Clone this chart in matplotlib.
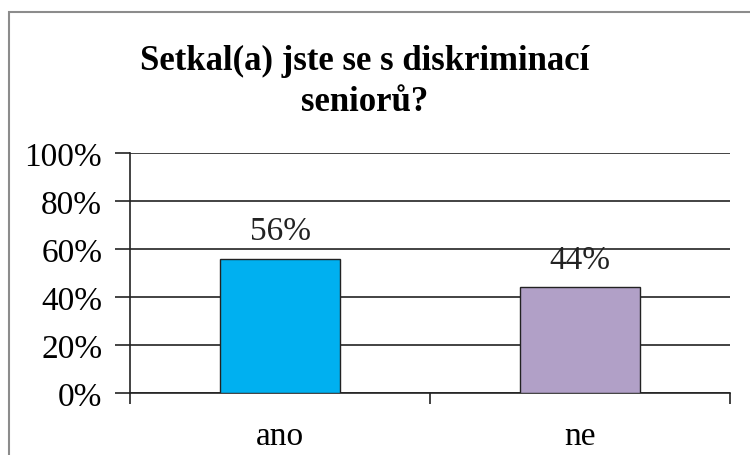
import matplotlib.pyplot as plt
from matplotlib.patches import Rectangle
from matplotlib.ticker import FixedLocator

# Survey answers (share of respondents)
categories = ["ano", "ne"]
shares = [56, 44]
bar_colors = ["#00B0F0", "#B1A0C7"]
y_ticks = [0, 20, 40, 60, 80, 100]
title = "Setkal(a) jste se s diskriminací\nseniorů?"

plt.rcParams["font.family"] = ["Liberation Serif", "DejaVu Serif"]

fig = plt.figure(figsize=(7.5, 4.56), dpi=100)
ax = fig.add_axes([130 / 750, 62 / 456, 600 / 750, 240 / 456])

# grey frame around the chart area
fig.patches.append(Rectangle((9 / 750, -0.1), 1.1, (456 - 13) / 456 + 0.1,
                             transform=fig.transFigure, fill=False,
                             edgecolor="#8c8c8c", linewidth=1.5))

x = range(len(categories))
ax.bar(x, shares, width=0.4, color=bar_colors, edgecolor="#222222",
       linewidth=1, zorder=3)
for xi, v in zip(x, shares):
    ax.annotate(f"{v}%", (xi, v), xytext=(0, 14), textcoords="offset points",
                ha="center", va="baseline", fontsize=24, color="#222222")

ax.set_xlim(-0.5, len(categories) - 0.5)
ax.set_ylim(0, 100)
ax.set_yticks(y_ticks)
ax.set_yticklabels([f"{t}%" for t in y_ticks], fontsize=24)
ax.yaxis.grid(True, color="#222222", linewidth=1.2, zorder=0)

# ticks between categories, labels under each bar
ax.xaxis.set_major_locator(FixedLocator([-0.5, 0.5, 1.5]))
ax.xaxis.set_minor_locator(FixedLocator(list(x)))
ax.set_xticklabels([])
ax.set_xticklabels(categories, minor=True, fontsize=24)
ax.tick_params(axis="x", which="major", length=8, width=1.2, color="#222222")
ax.tick_params(axis="x", which="minor", length=0, pad=20)
ax.tick_params(axis="y", length=11, width=1.2, color="#222222", pad=9)

for side in ("top", "right"):
    ax.spines[side].set_visible(False)
for side in ("left", "bottom"):
    ax.spines[side].set_color("#222222")
    ax.spines[side].set_linewidth(1.2)

fig.text(365 / 750, 1 - 82 / 456, title, ha="center", va="center",
         fontsize=25, fontweight="bold", linespacing=1.32)

fig.savefig("out.png", dpi=100)
